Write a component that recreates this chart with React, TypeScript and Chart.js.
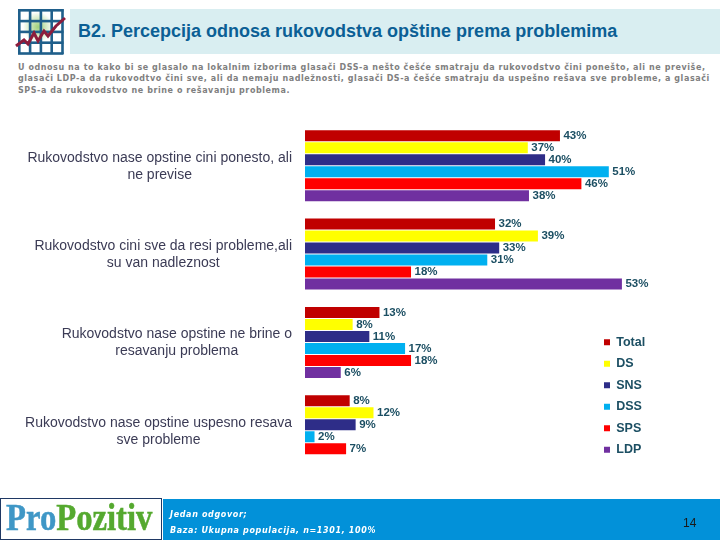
import React, { useEffect, useRef } from "react";
import { Chart, registerables } from "chart.js";

Chart.register(...registerables);

const categories = [
  ["Rukovodstvo nase opstine cini ponesto, ali", "ne previse"],
  ["Rukovodstvo cini sve da resi probleme,ali", "su van nadleznost"],
  ["Rukovodstvo nase opstine ne brine o", "resavanju problema"],
  ["Rukovodstvo nase opstine uspesno resava", "sve probleme"],
];
const total = [42.8, 31.9, 12.5, 7.5];
const ds = [37.4, 39.1, 8, 11.5];
const sns = [40.3, 32.6, 10.8, 8.5];
const dss = [51, 30.6, 16.8, 1.6];
const sps = [46.4, 17.8, 17.8, 6.9];
const ldp = [37.6, 53.2, 6, null];

const title = "B2. Percepcija odnosa rukovodstva opštine prema problemima";
const descLines = [
  "U odnosu na to kako bi se glasalo na lokalnim izborima glasači DSS-a nešto češće smatraju da rukovodstvo čini ponešto, ali ne previše,",
  "glasači LDP-a da rukovodtvo čini sve, ali da nemaju nadležnosti, glasači DS-a češće smatraju da uspešno rešava sve probleme, a glasači",
  "SPS-a da rukovodstvo ne brine o rešavanju problema.",
];
const footLines = ["Jedan odgovor;", "Baza: Ukupna populacija, n=1301, 100%"];
const pageNo = "14";

const seriesDefs: [string, (number | null)[], string][] = [
  ["Total", total, "#c00000"],
  ["DS", ds, "#ffff00"],
  ["SNS", sns, "#2e2d88"],
  ["DSS", dss, "#00b0f0"],
  ["SPS", sps, "#ff0000"],
  ["LDP", ldp, "#7030a0"],
];

const labelColor = "#1c4f63";

const catLabels = {
  id: "catLabels",
  afterDraw(chart: any) {
    const { ctx, scales } = chart;
    ctx.save();
    ctx.font = "14px 'Liberation Sans'";
    ctx.fillStyle = "#3b3b55";
    ctx.textAlign = "center";
    ctx.textBaseline = "middle";
    categories.forEach((lines, i) => {
      const y = scales.y.getPixelForTick(i);
      const w = Math.max(...lines.map((l) => ctx.measureText(l).width));
      const cx = 292 - w / 2;
      lines.forEach((l, j) => ctx.fillText(l, cx, y + 0.5 + (j - 0.5) * 17));
    });
    ctx.restore();
  },
};

const valueLabels = {
  id: "valueLabels",
  afterDatasetsDraw(chart: any) {
    const { ctx } = chart;
    ctx.save();
    ctx.font = "bold 11.5px 'Liberation Sans'";
    ctx.fillStyle = labelColor;
    ctx.textAlign = "left";
    ctx.textBaseline = "middle";
    chart.data.datasets.forEach((d: any, di: number) => {
      chart.getDatasetMeta(di).data.forEach((el: any, i: number) => {
        if (d.data[i] == null) return;
        ctx.fillText(Math.round(d.data[i]) + "%", el.x + 3.5, el.y);
      });
    });
    ctx.restore();
  },
};

// Places the library's own legend in the lower right of the page.
const legendPlace = {
  id: "legendPlace",
  beforeDraw(chart: any) {
    const l = chart.legend;
    l.left = 595;
    l.right = 720;
    l.top = 327;
    l.bottom = 540;
  },
};

function Icon() {
  const lines = [];
  for (let i = 0; i < 5; i++) {
    lines.push(<rect key={"v" + i} x={18 + i * 10.8} y={9} width={2.6} height={45} fill="#1f5f8b" />);
    lines.push(<rect key={"h" + i} x={18} y={9 + i * 10.8} width={45.5} height={2.6} fill="#1f5f8b" />);
  }
  return (
    <svg style={{ position: "absolute", left: 0, top: 0 }} width={80} height={70}>
      <defs>
        <radialGradient id="glow">
          <stop offset="0%" stopColor="#9fd07a" />
          <stop offset="100%" stopColor="#ffffff" />
        </radialGradient>
      </defs>
      <circle cx={38} cy={27} r={15} fill="url(#glow)" />
      {lines}
      <polyline points="16,46 24,40 28,44 34,33 38,41 44,31 48,36 56,26 65,18" fill="none" stroke="#8c1c3c" strokeWidth={3} />
    </svg>
  );
}

function Logo({ style }: { style?: React.CSSProperties }) {
  return (
    <div style={{ position: "absolute", fontFamily: "'Liberation Serif'", fontSize: 38, fontWeight: "bold", lineHeight: "44px", whiteSpace: "nowrap", WebkitTextStroke: "0.5px", ...style }}>
      <span style={{ color: "#3f97c6" }}>Pro</span>
      <span style={{ color: "#55a92f" }}>Pozitiv</span>
    </div>
  );
}

export default function App() {
  const ref = useRef<HTMLCanvasElement>(null);
  useEffect(() => {
    const chart = new Chart(ref.current!, {
      type: "bar",
      data: {
        labels: categories.map((c) => c.join(" ")),
        datasets: seriesDefs.map(([label, data, color]) => ({
          label,
          data,
          backgroundColor: color,
          barPercentage: 0.92,
          categoryPercentage: 0.815,
        })),
      },
      options: {
        animation: false,
        responsive: false,
        indexAxis: "y",
        layout: { padding: { left: 305, right: 69.5, top: 121.5, bottom: 65 } },
        scales: {
          x: { display: false, min: 0, max: 58 },
          y: { display: false },
        },
        plugins: {
          tooltip: { enabled: false },
          legend: {
            position: "chartArea",
            align: "start",
            labels: {
              boxWidth: 6,
              boxHeight: 6,
              padding: 9,
              color: labelColor,
              font: { family: "'Liberation Sans'", size: 12.5, weight: "bold" },
            },
          },
        },
      } as any,
      plugins: [catLabels, valueLabels, legendPlace],
    });
    return () => chart.destroy();
  }, []);

  return (
    <div style={{ position: "absolute", left: 0, top: 0, width: 720, height: 540, background: "#fff", overflow: "hidden", fontFamily: "'Liberation Sans'" }}>
      <div style={{ position: "absolute", left: 70, top: 9, width: 650, height: 45, background: "#d9eef1" }} />
      <Icon />
      <div style={{ position: "absolute", left: 78, top: 21, fontSize: 18, fontWeight: "bold", color: "#0b5f95", whiteSpace: "nowrap", lineHeight: "20px" }}>{title}</div>
      {descLines.map((l, i) => (
        <div key={i} style={{ position: "absolute", left: 18, top: 61.5 + i * 11.6, fontFamily: "'DejaVu Sans'", fontSize: 8, fontWeight: "bold", color: "#7f7f7f", letterSpacing: 0.57, whiteSpace: "nowrap", lineHeight: "12px" }}>{l}</div>
      ))}
      <canvas ref={ref} width={720} height={540} style={{ position: "absolute", left: 0, top: 0 }} />
      <div style={{ position: "absolute", left: 163, top: 499, width: 557, height: 41, background: "#0291d9" }} />
      <div style={{ position: "absolute", left: 0, top: 498, width: 162, height: 42, border: "1px solid #1f3864", boxSizing: "border-box", background: "#fff" }} />
      <div style={{ position: "absolute", left: 1, top: 499, width: 160, height: 41, overflow: "hidden" }}>
        <Logo style={{ left: 5, top: 58, transform: "scale(0.86,-0.5)", transformOrigin: "left top", opacity: 0.22 }} />
        <Logo style={{ left: 5, top: -4, transform: "scaleX(0.86)", transformOrigin: "left" }} />
      </div>
      {footLines.map((l, i) => (
        <div key={i} style={{ position: "absolute", left: 170, top: 509 + i * 16, fontFamily: "'DejaVu Sans'", fontStyle: "italic", fontWeight: "bold", fontSize: 8, letterSpacing: 0.65, color: "#fff", whiteSpace: "nowrap", lineHeight: "12px" }}>{l}</div>
      ))}
      <div style={{ position: "absolute", left: 683, top: 516, fontSize: 12, color: "#1a1a1a", lineHeight: "14px" }}>{pageNo}</div>
    </div>
  );
}
